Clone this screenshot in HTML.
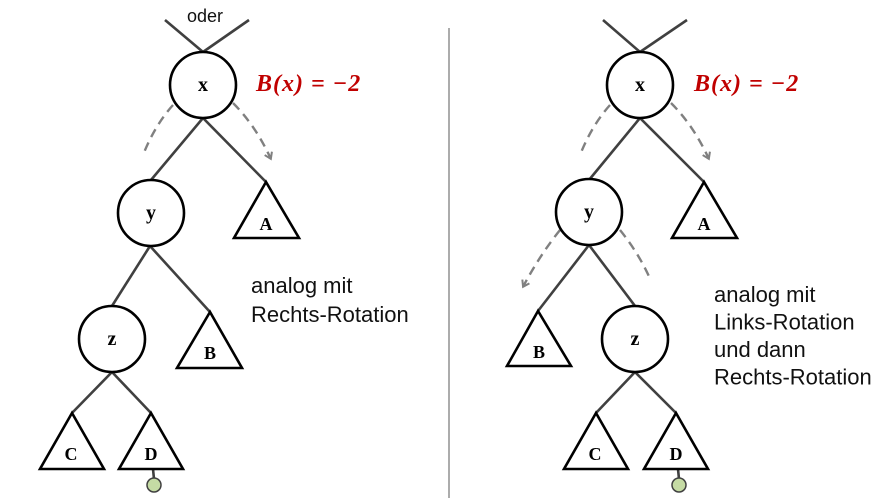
<!DOCTYPE html>
<html><head><meta charset="utf-8"><style>
html,body{margin:0;padding:0;background:#fff;}
svg{display:block}
.e{stroke:#404040;stroke-width:2.6;fill:none}
.n{stroke:#000;stroke-width:2.6;fill:#fff}
.d{stroke:#808080;stroke-width:2.4;fill:none;stroke-dasharray:9,6}
.lbl{font-family:"Liberation Serif",serif;font-weight:bold;font-size:20px;text-anchor:middle}
.tl{font-family:"Liberation Serif",serif;font-weight:bold;font-size:18px;text-anchor:middle}
.txt{font-family:"Liberation Sans",sans-serif;font-size:22px;fill:#111}
.bx{font-family:"Liberation Serif",serif;font-weight:bold;font-style:italic;font-size:24px;fill:#c00000;letter-spacing:1px}
</style></head><body>
<svg width="890" height="498" viewBox="0 0 890 498">
<defs><marker id="ar" markerUnits="userSpaceOnUse" markerWidth="10" markerHeight="10" refX="5" refY="5" orient="auto"><path d="M1,1 L7,5 L1,9" fill="none" stroke="#808080" stroke-width="2"/></marker></defs>
<line x1="449" y1="28" x2="449" y2="498" stroke="#909090" stroke-width="1.5"/>

<g>
<text x="205" y="22" class="txt" text-anchor="middle" font-size="18" style="font-size:18px">oder</text>
<line class="e" x1="165" y1="20" x2="203" y2="52"/><line class="e" x1="249" y1="20" x2="203" y2="52"/>
<line class="e" x1="203" y1="118" x2="151" y2="180"/><line class="e" x1="203" y1="118" x2="266" y2="182"/>
<line class="e" x1="150" y1="246" x2="112" y2="306"/><line class="e" x1="150" y1="246" x2="210" y2="312"/>
<line class="e" x1="112" y1="372" x2="72" y2="413"/><line class="e" x1="112" y1="372" x2="151" y2="413"/>
<line class="e" x1="153" y1="469" x2="154" y2="479"/>
<path class="d" d="M173,105 Q155,125 143,155"/>
<path class="d" d="M233,103 Q255,125 270,157" marker-end="url(#ar)"/>
<circle class="n" cx="203" cy="85" r="33"/><text class="lbl" x="203" y="91">x</text>
<circle class="n" cx="151" cy="213" r="33"/><text class="lbl" x="151" y="219">y</text>
<circle class="n" cx="112" cy="339" r="33"/><text class="lbl" x="112" y="345">z</text>
<polygon class="n" points="266,182 234,238 299,238"/><text class="tl" x="266" y="230">A</text>
<polygon class="n" points="210,312 177,368 242,368"/><text class="tl" x="210" y="359">B</text>
<polygon class="n" points="72,413 40,469 104,469"/><text class="tl" x="71" y="460">C</text>
<polygon class="n" points="151,413 119,469 183,469"/><text class="tl" x="151" y="460">D</text>
<circle cx="154" cy="485" r="7" fill="#c5dba4" stroke="#404040" stroke-width="1.5"/>
<text class="bx" x="256" y="91">B(x) = −2</text>
<text class="txt" x="251" y="293"><tspan x="251">analog mit</tspan><tspan x="251" dy="29">Rechts-Rotation</tspan></text>
</g>

<g>
<line class="e" x1="603" y1="20" x2="640" y2="52"/><line class="e" x1="687" y1="20" x2="640" y2="52"/>
<line class="e" x1="640" y1="118" x2="589" y2="180"/><line class="e" x1="640" y1="118" x2="704" y2="182"/>
<line class="e" x1="589" y1="245" x2="538" y2="311"/><line class="e" x1="589" y1="245" x2="635" y2="306"/>
<line class="e" x1="635" y1="372" x2="596" y2="413"/><line class="e" x1="635" y1="372" x2="676" y2="413"/>
<line class="e" x1="678" y1="469" x2="679" y2="479"/>
<path class="d" d="M610,105 Q592,125 580,155"/>
<path class="d" d="M671,103 Q693,125 708,157" marker-end="url(#ar)"/>
<path class="d" d="M560,230 Q540,255 524,285" marker-end="url(#ar)"/>
<path class="d" d="M620,230 Q640,255 651,281"/>
<circle class="n" cx="640" cy="85" r="33"/><text class="lbl" x="640" y="91">x</text>
<circle class="n" cx="589" cy="212" r="33"/><text class="lbl" x="589" y="218">y</text>
<circle class="n" cx="635" cy="339" r="33"/><text class="lbl" x="635" y="345">z</text>
<polygon class="n" points="704,182 672,238 737,238"/><text class="tl" x="704" y="230">A</text>
<polygon class="n" points="538,311 507,366 571,366"/><text class="tl" x="539" y="358">B</text>
<polygon class="n" points="596,413 564,469 628,469"/><text class="tl" x="595" y="460">C</text>
<polygon class="n" points="676,413 644,469 708,469"/><text class="tl" x="676" y="460">D</text>
<circle cx="679" cy="485" r="7" fill="#c5dba4" stroke="#404040" stroke-width="1.5"/>
<text class="bx" x="694" y="91">B(x) = −2</text>
<text class="txt" x="714" y="302"><tspan x="714">analog mit</tspan><tspan x="714" dy="27.5">Links-Rotation</tspan><tspan x="714" dy="27.5">und dann</tspan><tspan x="714" dy="27.5">Rechts-Rotation</tspan></text>
</g>
</svg>
</body></html>
